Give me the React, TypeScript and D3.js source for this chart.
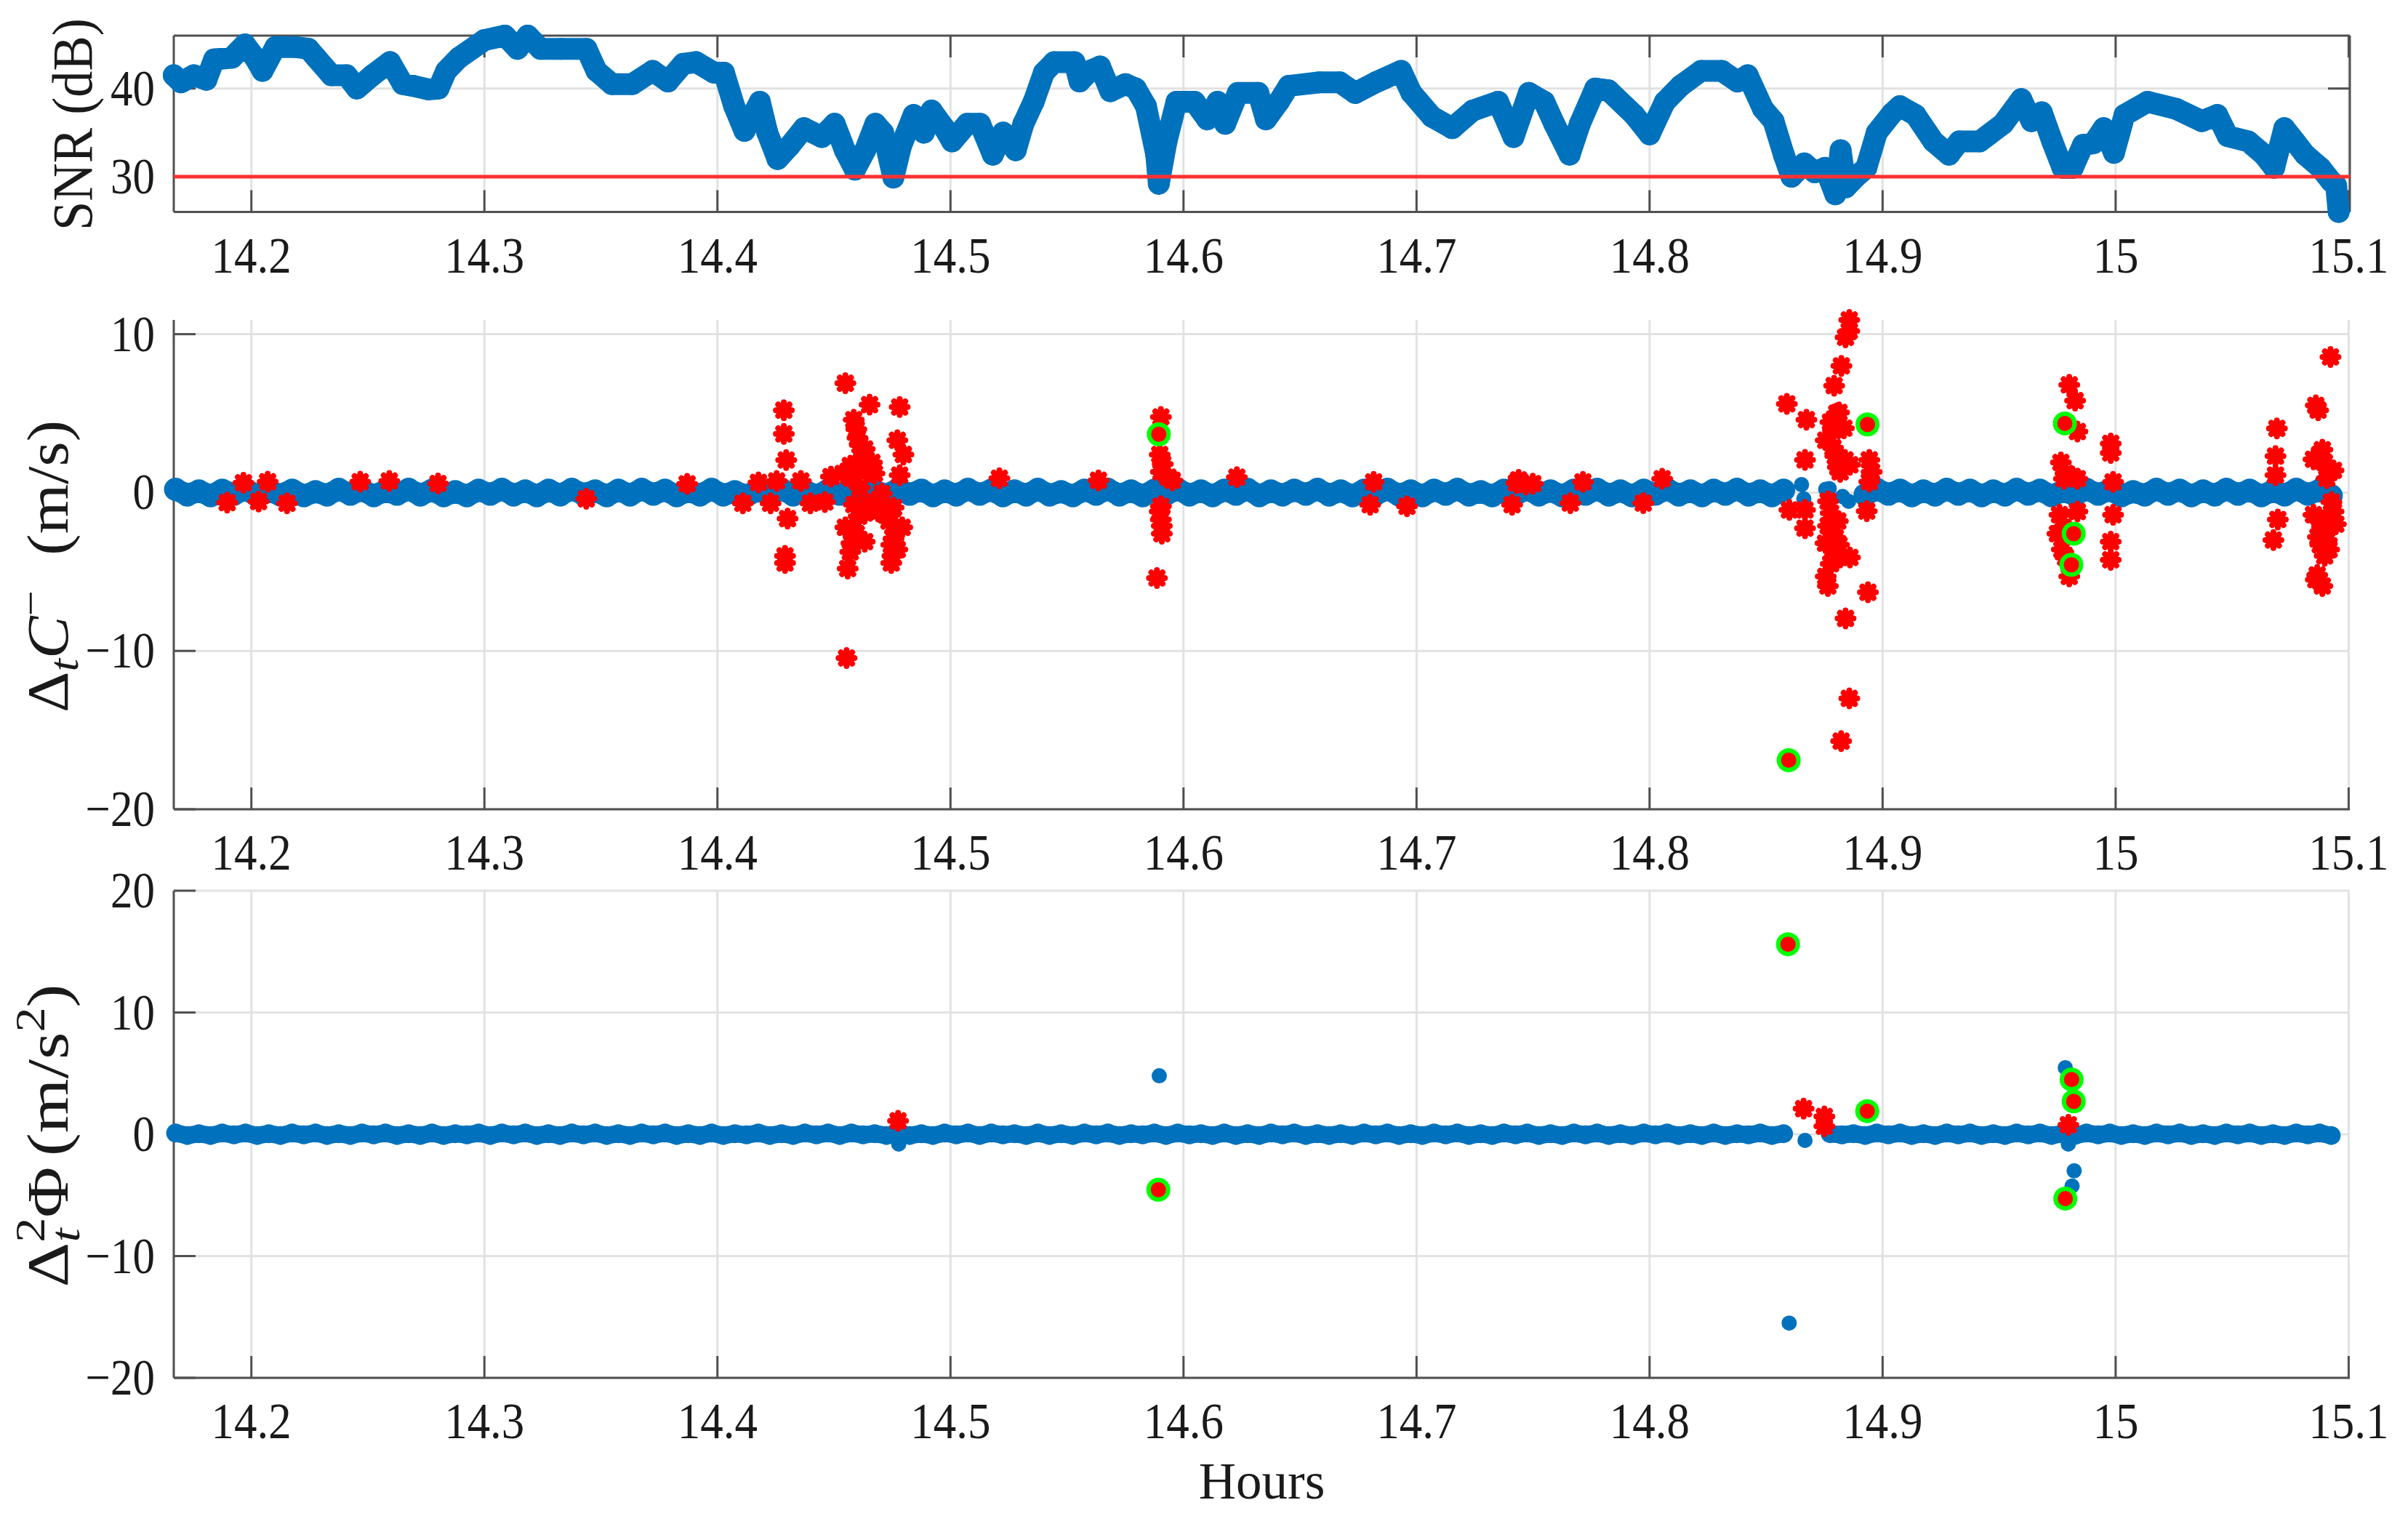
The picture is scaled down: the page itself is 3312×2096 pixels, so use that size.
import React from 'react';
import * as d3 from 'd3';

const FONT = '"Liberation Serif", "Times New Roman", Times, serif';
const BLUE = '#0072BD';
const RED = '#FF0000';
const GREEN = '#00FF00';
const GRID = '#e2e2e2';
const AXIS = '#505050';

// time axis (hours)
const hourRange = [14.1667, 15.1005];
const hourTicks = [14.2, 14.3, 14.4, 14.5, 14.6, 14.7, 14.8, 14.9, 15.0, 15.1];

// SNR (dB)
const snrSeries: [number, number][] = [
  [14.1667, 41.5], [14.1698, 40.7], [14.1753, 41.5], [14.1807, 41], [14.184, 43.3], [14.1917, 43.5],
  [14.1972, 45], [14.2015, 43.5], [14.2048, 42], [14.2103, 44.7], [14.219, 44.7], [14.2245, 44.5],
  [14.2278, 43.5], [14.2344, 41.5], [14.2409, 41.5], [14.2453, 40], [14.2519, 41.5], [14.2595, 43],
  [14.265, 40.5], [14.2694, 40.3], [14.2759, 39.9], [14.2803, 40], [14.2836, 42], [14.2891, 43.5],
  [14.3, 45.5], [14.3088, 46], [14.3142, 44.5], [14.3186, 46], [14.3241, 44.5], [14.3328, 44.5],
  [14.3438, 44.5], [14.3481, 42], [14.3547, 40.5], [14.3635, 40.5], [14.3722, 42], [14.3788, 40.8],
  [14.3853, 42.8], [14.3908, 43], [14.3985, 41.8], [14.4028, 41.8], [14.4072, 38], [14.4116, 35.2],
  [14.4182, 38.5], [14.4214, 35], [14.4258, 32], [14.431, 33.5], [14.4371, 35.5], [14.4448, 34.5],
  [14.4503, 36], [14.4547, 33], [14.459, 30.8], [14.4634, 33], [14.4678, 36], [14.4711, 35],
  [14.4755, 29.9], [14.4788, 33.5], [14.4842, 37], [14.4886, 35], [14.4919, 37.5], [14.4974, 35.5],
  [14.5007, 34], [14.5072, 36], [14.5127, 36], [14.5182, 32.5], [14.5226, 35], [14.528, 33],
  [14.5313, 36], [14.5357, 38.5], [14.5401, 41.8], [14.5445, 43], [14.5532, 43], [14.5554, 40.8],
  [14.5598, 42], [14.5642, 42.5], [14.5686, 39.7], [14.5751, 40.5], [14.5795, 40], [14.5839, 38],
  [14.5883, 32.5], [14.5894, 29.2], [14.5927, 34], [14.597, 38.5], [14.6047, 38.5], [14.6102, 36.5],
  [14.6146, 38.5], [14.6179, 36], [14.6233, 39.5], [14.6321, 39.5], [14.6354, 36.5], [14.6409, 38.5],
  [14.6452, 40.3], [14.6584, 40.7], [14.6671, 40.7], [14.6737, 39.5], [14.6825, 40.7], [14.6934, 42],
  [14.6978, 39.5], [14.7066, 36.8], [14.7153, 35.5], [14.7241, 37.5], [14.735, 38.5], [14.7416, 34.5],
  [14.7482, 39.5], [14.7548, 38.5], [14.7591, 36], [14.7657, 32.5], [14.7701, 36], [14.7767, 40],
  [14.7823, 39.8], [14.7934, 37], [14.8, 34.8], [14.8066, 38.5], [14.8133, 40.3], [14.8221, 42],
  [14.831, 42], [14.8377, 40.8], [14.8421, 41.5], [14.8487, 37.7], [14.8532, 36.3], [14.8576, 32.5],
  [14.8609, 30], [14.8664, 31.5], [14.8709, 30.5], [14.8753, 31], [14.8797, 28], [14.882, 33],
  [14.8842, 28.8], [14.8886, 30], [14.893, 31], [14.8975, 35], [14.9041, 37.2], [14.9074, 38],
  [14.9141, 37], [14.9218, 34], [14.9285, 32.5], [14.9329, 34], [14.9417, 34], [14.9517, 36],
  [14.9595, 38.8], [14.9639, 36.3], [14.9683, 37.3], [14.9728, 34], [14.9772, 31], [14.9816, 31],
  [14.986, 33.6], [14.9905, 33.8], [14.9949, 35.5], [14.9993, 32.7], [15.0038, 37], [15.0137, 38.5],
  [15.0259, 37.7], [15.037, 36.3], [15.0436, 37], [15.0481, 34.6], [15.0569, 34], [15.0636, 32.5],
  [15.068, 31], [15.0724, 35.5], [15.0769, 34], [15.0813, 32.5], [15.0879, 31], [15.0924, 29.5],
  [15.0946, 29], [15.0957, 26],
];
const snrMask = 30;
const snrTicks = [30, 40];

// fault-free epochs, sampled every 0.005 h from 14.1675 h (null = no sample kept)
const bandStart = 14.1675;
const bandStep = 0.005;

// Δt C− (m/s)
const codeBlue: (number | null)[] = [
  0.2, -0.15, 0.1, -0.2, 0.15, -0.1, 0.2, -0.2, 0.1, -0.15,
  0.15, -0.2, 0.05, -0.15, 0.2, -0.1, 0.15, -0.2, 0.1, -0.1,
  0.2, -0.15, 0.15, -0.2, 0.05, -0.2, 0.15, -0.1, 0.2, -0.15,
  0.1, -0.2, 0.15, -0.15, 0.2, -0.1, 0.1, -0.2, 0.15, -0.15,
  0.2, -0.1, 0.15, -0.2, 0.1, -0.15, 0.2, -0.15, 0.05, -0.2,
  0.15, -0.1, 0.2, -0.15, 0.1, -0.2, 0.15, -0.1, 0.2, -0.2,
  0.1, -0.15, 0.2, -0.1, 0.15, -0.2, 0.1, -0.15, 0.2, -0.1,
  0.15, -0.2, 0.1, -0.15, 0.2, -0.15, 0.05, -0.2, 0.15, -0.1,
  0.2, -0.15, 0.1, -0.2, 0.15, -0.1, 0.2, -0.15, 0.1, -0.2,
  0.15, -0.1, 0.2, -0.2, 0.1, -0.15, 0.15, -0.1, 0.2, -0.15,
  0.1, -0.2, 0.15, -0.1, 0.2, -0.15, 0.1, -0.2, 0.15, -0.1,
  0.2, -0.15, 0.05, -0.2, 0.15, -0.1, 0.2, -0.15, 0.1, -0.2,
  0.15, -0.1, 0.2, -0.15, 0.1, -0.2, 0.15, -0.1, 0.2, -0.15,
  0.1, -0.2, 0.15, -0.1, 0.2, -0.15, 0.1, -0.2, 0.15,
  null, null, null, null, null, null,
  -0.15, 0.2, -0.1, 0.15, -0.2,
  0.1, -0.15, 0.2, -0.1, 0.15, -0.2, 0.1, -0.15, 0.2, -0.1,
  0.15, -0.2, 0.1, -0.15, 0.2, -0.1, 0.15, -0.2, 0.05, -0.15,
  0.2, -0.1, 0.15, -0.2, 0.1, -0.15, 0.2, -0.1, 0.15, -0.2,
  0.1, -0.15, 0.2, -0.1, 0.15, -0.2,
];
const codeBlueExtra: [number, number][] = [
  [14.8652, 0.5], [14.8662, -0.4], [14.8756, 0.2], [14.8771, 0.25], [14.8828, -0.25], [14.8854, -0.55],
  [15.0887, 0.7],
];
const codeRed: [number, number][] = [
  [14.1896, -0.64], [14.1966, 0.62], [14.2031, -0.57], [14.207, 0.68], [14.2153, -0.68], [14.2467, 0.68],
  [14.2592, 0.73], [14.2801, 0.57], [14.3437, -0.4], [14.387, 0.55],
  [14.4109, -0.68], [14.4176, 0.64], [14.4254, 0.73], [14.4228, -0.68], [14.4285, 5.2], [14.4285, 3.7],
  [14.4295, 2.05], [14.4301, -1.65], [14.429, -4.0], [14.429, -4.45], [14.4358, 0.73], [14.4399, -0.68],
  [14.4461, -0.6], [14.4487, 1.0], [14.4549, 6.9], [14.4653, 5.55], [14.4782, 5.4], [14.4585, 4.6],
  [14.4601, 3.45], [14.4632, 2.75], [14.4663, 1.9], [14.457, 1.7], [14.4539, 1.2], [14.4674, 1.2],
  [14.4772, 3.3], [14.4798, 2.4], [14.4782, 1.1], [14.4585, -0.76], [14.4653, -0.76], [14.4715, -1.1],
  [14.4756, -0.95], [14.4549, -2.2], [14.4793, -2.2], [14.4632, -3.1], [14.457, -3.75], [14.4772, -3.6],
  [14.4559, -4.8], [14.4746, -4.45], [14.4554, -10.45], [14.4611, 0.3], [14.4705, -0.06], [14.4725, -1.4],
  [14.4756, -2.9], [14.4596, 4.0], [14.4611, 3.0], [14.4627, 2.3], [14.4642, 1.6], [14.4658, 1.3],
  [14.4575, 0.9], [14.4601, 1.4], [14.4606, -1.5], [14.4596, -2.6], [14.4575, -3.2], [14.4632, -1.3],
  [14.4689, -1.2], [14.4736, -1.8], [14.4746, -3.3], [14.4762, -2.5], [14.4751, -4.0], [14.4741, -1.4],
  [14.521, 0.9], [14.5635, 0.77], [14.5903, 4.77], [14.5898, 2.4], [14.5911, 1.8], [14.5934, 0.97],
  [14.5952, 0.77], [14.5903, 1.3], [14.5903, -0.87], [14.5898, -1.2], [14.5903, -1.7], [14.5907, -2.1],
  [14.5907, -2.6], [14.5886, -5.4],
  [14.6229, 0.97], [14.6816, 0.67], [14.6801, -0.77], [14.6959, -0.87], [14.7428, 0.6], [14.7438, 0.8],
  [14.7469, 0.5], [14.7499, 0.56], [14.741, -0.77], [14.766, -0.67], [14.7714, 0.67], [14.7973, -0.67],
  [14.8054, 0.87],
  [14.8589, 5.6], [14.8673, 4.6], [14.8823, 8.0], [14.8792, 6.75], [14.8813, 5.06], [14.8776, 4.45],
  [14.8834, 4.06], [14.8756, 3.3], [14.8787, 2.83], [14.8667, 2.06], [14.8839, 2.06], [14.886, 1.75],
  [14.8818, 1.3], [14.8943, 2.06], [14.8953, 1.3], [14.8943, 0.68], [14.86, -1.1], [14.8667, -1.1],
  [14.8667, -2.25], [14.8766, -0.55], [14.8777, -1.3], [14.8766, -2.1], [14.8797, -2.85], [14.8755, -3.2],
  [14.8818, -4.1], [14.886, -4.1], [14.8932, -1.17], [14.8756, -5.3], [14.8765, -5.9], [14.8937, -6.3],
  [14.8841, -7.95], [14.8857, -13.0], [14.8822, -15.7], [14.8857, 10.9], [14.8857, 10.2], [14.8841, 9.8],
  [14.8803, 5.0], [14.8803, 4.36], [14.8787, 3.9], [14.8797, 2.3], [14.8808, 1.6], [14.8808, -1.8],
  [14.8787, -3.6], [14.8813, -3.3], [14.8777, -4.5],
  [14.9801, 6.8], [14.9826, 5.8], [14.9836, 3.85], [14.9979, 3.1], [14.9979, 2.5], [14.9765, 1.9],
  [14.9778, 0.87], [14.9836, 0.87], [14.9989, 0.67], [14.9759, -1.4], [14.9836, -1.2], [14.9989, -1.4],
  [14.9769, -3.6], [14.9979, -3.1], [14.9979, -4.25], [14.9801, -5.3], [14.975, -2.6], [14.9785, 1.2],
  [14.9815, 1.0], [14.9775, -2.2], [14.9785, -4.1],
  [15.0922, 8.56], [15.0859, 5.5], [15.0692, 4.05], [15.0686, 2.3], [15.0686, 1.1], [15.0887, 2.7],
  [15.0849, 2.1], [15.0935, 1.4], [15.0906, 0.9], [15.0696, -1.7], [15.0677, -3.0], [15.0849, -1.4],
  [15.0906, -1.6], [15.0945, -2.0], [15.0868, -2.8], [15.0916, -3.6], [15.0859, -5.5], [15.0887, -5.9],
  [15.0926, -0.6], [15.0869, 5.2], [15.0875, 2.4], [15.0896, 1.9], [15.0876, -1.8], [15.0896, -2.4],
  [15.0906, -3.0], [15.0878, -3.3], [15.0897, -4.0], [15.0865, -5.2], [15.0935, -1.2],
];
const codeGreen: [number, number][] = [
  [14.5894, 3.68], [14.8597, -16.9], [14.8935, 4.3], [14.9782, 4.36], [14.982, -2.6], [14.981, -4.56],
];
const codeRange = [-20, 10.9];
const codeTicks = [-20, -10, 0, 10];

// Δt² Φ (m/s²)
const phaseBlue: (number | null)[] = [
  0.1, -0.1, 0.05, -0.1, 0.1, -0.05, 0.1, -0.1, 0.05, -0.1,
  0.1, -0.05, 0.1, -0.1, 0.05, -0.1, 0.1, -0.05, 0.1, -0.1,
  0.05, -0.1, 0.1, -0.1, 0.05, -0.05, 0.1, -0.1, 0.1, -0.05,
  0.1, -0.1, 0.05, -0.1, 0.1, -0.05, 0.1, -0.1, 0.05, -0.1,
  0.1, -0.05, 0.1, -0.1, 0.05, -0.1, 0.1, -0.1, 0.05, -0.05,
  0.1, -0.1, 0.05, -0.1, 0.1, -0.05, 0.1, -0.1, 0.1, -0.05,
  0.05, -0.1, 0.1, -0.1, 0.05, -0.1, 0.1, -0.05, 0.1, -0.1,
  0.1, -0.05, 0.05, -0.1, 0.1, -0.1, 0.05, -0.1, 0.1, -0.05,
  0.1, -0.1, 0.05, -0.05, 0.1, -0.1, 0.1, -0.05, 0.05, -0.1,
  0.1, -0.1, 0.05, -0.1, 0.1, -0.05, 0.1, -0.1, 0.05, -0.1,
  0.05, -0.1, 0.1, -0.05, 0.1, -0.1, 0.05, -0.1, 0.1, -0.05,
  0.1, -0.1, 0.05, -0.1, 0.1, -0.05, 0.1, -0.1, 0.05, -0.1,
  0.1, -0.05, 0.1, -0.1, 0.05, -0.1, 0.1, -0.05, 0.1, -0.1,
  0.05, -0.1, 0.1, -0.1, 0.05, -0.05, 0.1, -0.1, 0.05,
  null, null, null,
  0.05, -0.05, 0.05,
  -0.1, 0.1, -0.05, 0.1, -0.1,
  0.05, -0.1, 0.1, -0.05, 0.1, -0.1, 0.05, -0.1, 0.1, -0.05,
  0.1, -0.1, 0.05, -0.1, 0.1, -0.05, 0.1, -0.1, 0.05, -0.1,
  0.1, -0.05, 0.1, -0.1, 0.05, -0.1, 0.1, -0.05, 0.1, -0.1,
  0.05, -0.1, 0.1, -0.05, 0.1, -0.1,
];
const phaseBlueExtra: [number, number][] = [
  [14.4778, -0.8], [14.5896, 4.8], [14.8599, -15.5], [14.8667, -0.5], [14.9784, 5.47], [14.9822, -3.0],
  [14.9813, -4.25], [14.9797, -0.8],
];
const phaseRed: [number, number][] = [
  [14.4775, 1.1], [14.8661, 2.1], [14.875, 1.46], [14.875, 0.66], [14.9797, 0.78],
];
const phaseGreen: [number, number][] = [
  [14.5892, -4.55], [14.8594, 15.6], [14.8934, 1.9], [14.9811, 4.5], [14.982, 2.7], [14.9784, -5.28],
];
const phaseRange = [-20, 20];
const phaseTicks = [-20, -10, 0, 10, 20];

const W = 3312;
const H = 2096;
const X_LEFT = 239;
const X_RIGHT = 3232;
const TICK = 30;
const TEXT = '#1a1a1a';

const x = d3.scaleLinear().domain(hourRange).range([X_LEFT, X_RIGHT]);
const ySnr = d3.scaleLinear().domain([26, 46]).range([291.5, 49]);
const yCode = d3.scaleLinear().domain(codeRange).range([1113, 440]);
const yPhase = d3.scaleLinear().domain(phaseRange).range([1895, 1225]);

const fmtHour = (t: number) => (Math.abs(t - 15) < 1e-9 ? '15' : t.toFixed(1));
const fmtVal = (v: number) => (v < 0 ? `\u2212${Math.abs(v)}` : `${v}`);

const bandPoints = (vals: (number | null)[]): [number, number | null][] =>
  vals.map((v, i) => [bandStart + i * bandStep, v]);

function starPath(r: number) {
  const d = r * Math.SQRT1_2;
  return `M${-r},0L${r},0M0,${-r}L0,${r}M${-d},${-d}L${d},${d}M${-d},${d}L${d},${-d}`;
}

type Scale = d3.ScaleLinear<number, number>;

function Frame({ y, yTicks, box }: { y: Scale; yTicks: number[]; box?: boolean }) {
  const [yb, yt] = y.range();
  return (
    <g>
      {hourTicks.map(t => (
        <line key={`gx${t}`} x1={x(t)} x2={x(t)} y1={yt} y2={yb} stroke={GRID} strokeWidth={3} />
      ))}
      {yTicks.map(v => (
        <line key={`gy${v}`} x1={X_LEFT} x2={X_RIGHT} y1={y(v)} y2={y(v)} stroke={GRID} strokeWidth={3} />
      ))}
      <line x1={X_LEFT} x2={X_LEFT} y1={yt} y2={yb} stroke={AXIS} strokeWidth={3} />
      <line x1={X_LEFT} x2={X_RIGHT} y1={yb} y2={yb} stroke={AXIS} strokeWidth={3} />
      {box && (
        <>
          <line x1={X_LEFT} x2={X_RIGHT} y1={yt} y2={yt} stroke={AXIS} strokeWidth={3} />
          <line x1={X_RIGHT} x2={X_RIGHT} y1={yt} y2={yb} stroke={AXIS} strokeWidth={3} />
        </>
      )}
      {hourTicks.map(t => (
        <line key={`tb${t}`} x1={x(t)} x2={x(t)} y1={yb} y2={yb - TICK} stroke={AXIS} strokeWidth={3} />
      ))}
      {box && hourTicks.map(t => (
        <line key={`tt${t}`} x1={x(t)} x2={x(t)} y1={yt} y2={yt + TICK} stroke={AXIS} strokeWidth={3} />
      ))}
      {yTicks.map(v => (
        <line key={`tl${v}`} x1={X_LEFT} x2={X_LEFT + TICK} y1={y(v)} y2={y(v)} stroke={AXIS} strokeWidth={3} />
      ))}
      {box && yTicks.map(v => (
        <line key={`tr${v}`} x1={X_RIGHT} x2={X_RIGHT - TICK} y1={y(v)} y2={y(v)} stroke={AXIS} strokeWidth={3} />
      ))}
      {hourTicks.map(t => (
        <text key={`lx${t}`} transform={`translate(${x(t)},${yb + 83}) scale(1,1.12)`} textAnchor="middle"
          fontSize={63} fill={TEXT}>
          {fmtHour(t)}
        </text>
      ))}
      {yTicks.map(v => (
        <text key={`ly${v}`} transform={`translate(213,${y(v) + 23}) scale(1,1.15)`} textAnchor="end"
          fontSize={61} fill={TEXT}>
          {fmtVal(v)}
        </text>
      ))}
    </g>
  );
}

function Band({ data, y, width }: { data: [number, number | null][]; y: Scale; width: number }) {
  const line = d3.line<[number, number | null]>()
    .defined(d => d[1] !== null)
    .x(d => x(d[0]))
    .y(d => y(d[1] as number));
  return (
    <g>
      <path d={line(data) || ''} fill="none" stroke={BLUE} strokeWidth={width} strokeLinejoin="round" strokeLinecap="round" />
      {data.filter(d => d[1] !== null).map((d, i) => (
        <circle key={i} cx={x(d[0])} cy={y(d[1] as number)} r={width / 2 + 1} fill={BLUE} />
      ))}
    </g>
  );
}

function Dots({ data, y }: { data: [number, number][]; y: Scale }) {
  return <g>{data.map((d, i) => <circle key={i} cx={x(d[0])} cy={y(d[1])} r={10.5} fill={BLUE} />)}</g>;
}

function Stars({ data, y }: { data: [number, number][]; y: Scale }) {
  const p = starPath(11);
  return (
    <g>
      {data.map((d, i) => (
        <g key={i} transform={`translate(${x(d[0])},${y(d[1])})`}>
          <circle r={11} fill={RED} />
          <path d={p} stroke={RED} strokeWidth={8} strokeLinecap="round" />
        </g>
      ))}
    </g>
  );
}

function Rings({ data, y }: { data: [number, number][]; y: Scale }) {
  return (
    <g>
      {data.map((d, i) => (
        <circle key={i} cx={x(d[0])} cy={y(d[1])} r={13.5} fill={RED} stroke={GREEN} strokeWidth={6} />
      ))}
    </g>
  );
}

export default function App() {
  const snrLine = d3.line<[number, number]>().x(d => x(d[0])).y(d => ySnr(d[1]));
  return (
    <svg width={W} height={H} viewBox={`0 0 ${W} ${H}`}
      style={{ position: 'absolute', left: 0, top: 0, background: '#fff' }}
      fontFamily={FONT}>
      <rect width={W} height={H} fill="#fff" />

      {/* SNR */}
      <Frame y={ySnr} yTicks={snrTicks} box />
      <path d={snrLine(snrSeries) || ''} fill="none" stroke={BLUE} strokeWidth={30} strokeLinejoin="round" strokeLinecap="round" />
      {snrSeries.map((d, i) => <circle key={i} cx={x(d[0])} cy={ySnr(d[1])} r={15} fill={BLUE} />)}
      <line x1={X_LEFT} x2={X_RIGHT} y1={ySnr(snrMask)} y2={ySnr(snrMask)} stroke="#ff3030" strokeWidth={5} />
      <text transform="translate(126,171) rotate(-90)" textAnchor="middle" fontSize={78}
        textLength={292} lengthAdjust="spacingAndGlyphs" fill={TEXT}>SNR (dB)</text>

      {/* Δt C− */}
      <Frame y={yCode} yTicks={codeTicks} />
      <Band data={bandPoints(codeBlue)} y={yCode} width={30} />
      <Dots data={codeBlueExtra} y={yCode} />
      <Stars data={codeRed} y={yCode} />
      <Rings data={codeGreen} y={yCode} />
      <text transform="translate(93,779) scale(1,1.1) rotate(-90)" textAnchor="middle" fontSize={80} fill={TEXT}>
        <tspan>Δ</tspan>
        <tspan fontSize={57} fontStyle="italic" dy={14}>t</tspan>
        <tspan fontStyle="italic" dy={-14}>C</tspan>
        <tspan fontSize={57} dy={-32}>−</tspan>
        <tspan dy={32} dx={44}>(m/s)</tspan>
      </text>

      {/* Δt² Φ */}
      <Frame y={yPhase} yTicks={phaseTicks} />
      <Band data={bandPoints(phaseBlue)} y={yPhase} width={24} />
      <Dots data={phaseBlueExtra} y={yPhase} />
      <Stars data={phaseRed} y={yPhase} />
      <Rings data={phaseGreen} y={yPhase} />
      <text transform="translate(93,1562) scale(1,1.2) rotate(-90)" textAnchor="middle" fontSize={80} fill={TEXT}>
        <tspan>Δ</tspan>
        <tspan fontSize={57} dy={-32}>2</tspan>
        <tspan fontSize={57} fontStyle="italic" dx={-28} dy={48}>t</tspan>
        <tspan dx={12} dy={-16}>Φ</tspan>
        <tspan dx={12}>(m/s</tspan>
        <tspan fontSize={57} dy={-32}>2</tspan>
        <tspan dy={32}>)</tspan>
      </text>

      <text x={(X_LEFT + X_RIGHT) / 2} y={2061} textAnchor="middle" fontSize={71} fill={TEXT}>Hours</text>
    </svg>
  );
}
